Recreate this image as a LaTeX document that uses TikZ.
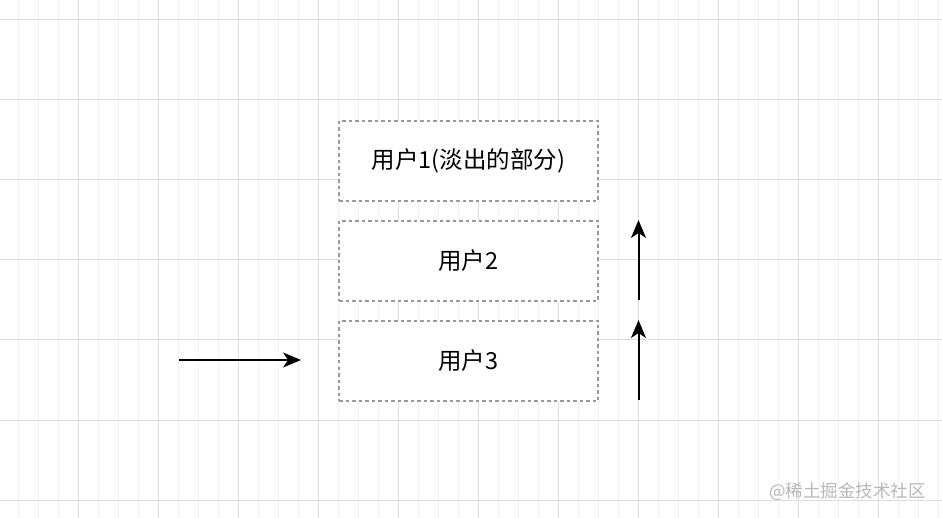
\documentclass[tikz,border=0pt]{standalone}
\usepackage{fontspec}
\newfontfamily\cjk{Noto Sans CJK SC}
\usetikzlibrary{arrows.meta}
\definecolor{gridmajor}{HTML}{DDDDDD}
\definecolor{gridminor}{HTML}{F2F2F2}
\definecolor{boxline}{HTML}{9A9A9A}
\definecolor{wm}{HTML}{B8B8B8}
\tikzset{
  userbox/.style={draw=boxline, line width=1.2pt, dash pattern=on 3.5pt off 3pt,
    minimum width=259pt, minimum height=80pt, inner sep=0pt, fill=white,
    font=\cjk\fontsize{23.5}{28}\selectfont, text=black},
  flow/.style={line width=2pt, -{Stealth[length=18pt,width=15pt,inset=5pt]}},
}
\begin{document}
\begin{tikzpicture}[x=1pt,y=-1pt]
\useasboundingbox (0,0) rectangle (942,518);
\fill[white] (0,0) rectangle (942,518);
% minor vertical grid lines
\foreach \x in {18,38,...,938} {\draw[gridminor,line width=1pt] (\x,0) -- (\x,518);}
% major grid lines
\foreach \x in {78,158,...,938} {\draw[gridmajor,line width=1pt] (\x,0) -- (\x,518);}
\foreach \y in {20,100,...,500} {\draw[gridmajor,line width=1pt] (0,\y) -- (942,\y);}
% boxes
\node[userbox] (u1) at (468.5,161) {用户1(淡出的部分)};
\node[userbox] (u2) at (468.5,261) {用户2};
\node[userbox] (u3) at (468.5,361) {用户3};
% arrows
\coordinate (hs) at (179,360);
\coordinate (he) at (301,360);
\draw[flow] (hs) -- (he);
\coordinate (a1s) at (638.5,300);
\coordinate (a1e) at (638.5,220);
\draw[flow] (a1s) -- (a1e);
\coordinate (a2s) at (638.5,400);
\coordinate (a2e) at (638.5,320);
\draw[flow] (a2s) -- (a2e);
% watermark
\node[anchor=east, text=wm, font=\cjk\fontsize{17.5}{20}\selectfont, inner sep=0pt] (wmk) at (926,492) {@稀土掘金技术社区};
\end{tikzpicture}
\end{document}
